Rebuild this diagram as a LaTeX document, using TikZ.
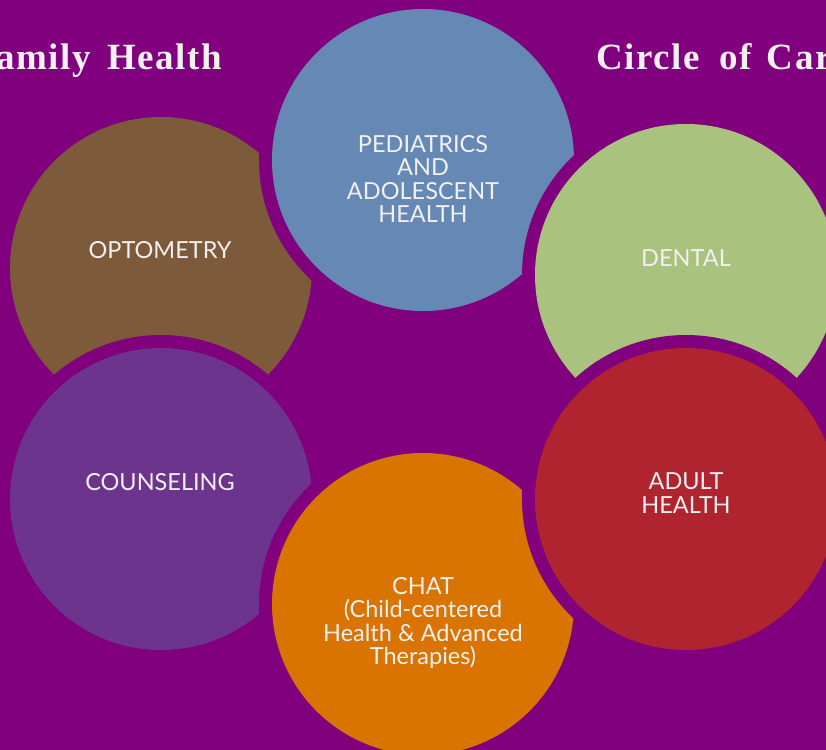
\documentclass[tikz,border=0pt]{standalone}
\usepackage{fontspec}
\setmainfont{Lato}
\newfontfamily\titlefont[LetterSpace=4]{Liberation Serif}
\definecolor{bgpurple}{RGB}{128,0,126}
\definecolor{pedblue}{RGB}{101,136,181}
\definecolor{optbrown}{RGB}{125,90,58}
\definecolor{dentgreen}{RGB}{169,194,125}
\definecolor{adultred}{RGB}{176,36,47}
\definecolor{chatorange}{RGB}{217,116,0}
\definecolor{counsviolet}{RGB}{108,52,140}
\definecolor{txtwhite}{RGB}{242,240,240}
\tikzset{
  ring/.style={circle, fill=bgpurple, inner sep=0pt, minimum size=328pt},
  disc/.style={circle, inner sep=0pt, minimum size=302pt},
  lbl/.style={text=txtwhite, align=center, inner sep=0pt,
    font=\fontsize{23.5}{23.5}\selectfont},
  ttl/.style={text=txtwhite, inner sep=0pt,
    font=\titlefont\bfseries\fontsize{37}{40}\selectfont}
}
\begin{document}
\begin{tikzpicture}[x=1pt,y=-1pt]
\useasboundingbox (0,0) rectangle (826,749);
\fill[bgpurple] (-20,-20) rectangle (846,769);
% titles
\node[ttl, anchor=base east] (t1) at (222,70) {Family\hspace{0.45em}Health};
\node[ttl, anchor=base west] (t2) at (596,70) {Circle\hspace{0.55em}of\hspace{0.4em}Care};
% optometry
\node[ring] (optr) at (161,268) {};
\node[disc, fill=optbrown] (opt) at (161,268) {};
% counseling
\node[ring] (counr) at (161,499) {};
\node[disc, fill=counsviolet] (coun) at (161,499) {};
% chat
\node[ring] (chatr) at (423,604) {};
\node[disc, fill=chatorange] (chat) at (423,604) {};
% pediatrics
\node[ring] (pedr) at (423,160) {};
\node[disc, fill=pedblue] (ped) at (423,160) {};
% dental
\node[ring] (dentr) at (686,275) {};
\node[disc, fill=dentgreen] (dent) at (686,275) {};
% adult
\node[ring] (adr) at (686,499) {};
\node[disc, fill=adultred] (ad) at (686,499) {};
% labels
\node[lbl] (pedt) at (423,179) {PEDIATRICS\\AND\\ADOLESCENT\\HEALTH};
\node[lbl] (optt) at (160,250) {OPTOMETRY};
\node[lbl] (dentt) at (686,258) {DENTAL};
\node[lbl] (count) at (160,482) {COUNSELING};
\node[lbl] (adt) at (686,493) {ADULT\\HEALTH};
\node[lbl] (chatt) at (423,623) {CHAT\\(Child-centered\\Health \& Advanced\\Therapies)};
\end{tikzpicture}
\end{document}
